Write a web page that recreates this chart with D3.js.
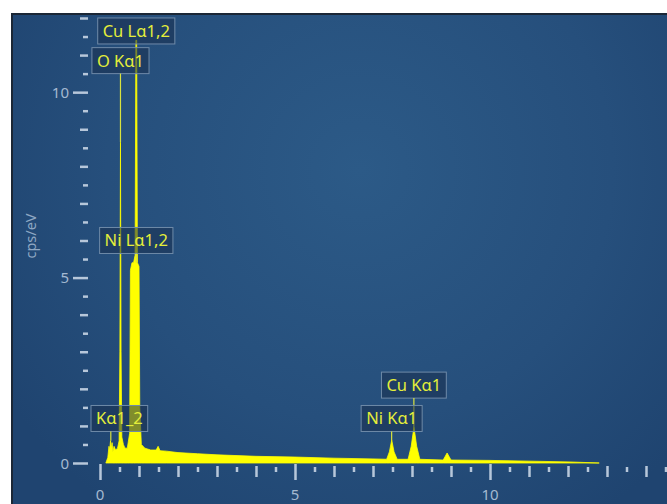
<!DOCTYPE html>
<html>
<head>
<meta charset="utf-8">
<script src="https://cdn.jsdelivr.net/npm/d3@7/dist/d3.min.js"></script>
<style>
  html, body { margin: 0; padding: 0; background: #ffffff; }
  svg { display: block; }
</style>
</head>
<body>
<svg id="chart" width="667" height="504"></svg>
<script>
// EDS spectrum: energy (keV) and intensity (cps/eV)
const energy = [0.15, 0.20, 0.23, 0.25, 0.27, 0.29, 0.31, 0.33, 0.36, 0.40, 0.45, 0.49,
  0.51, 0.525, 0.54, 0.56, 0.60, 0.64, 0.70, 0.76, 0.78, 0.82, 0.86, 0.90, 0.92, 0.94,
  0.96, 1.00, 1.02, 1.06, 1.15, 1.30, 1.44, 1.49, 1.54, 1.70, 2.0, 2.5, 3.0, 4.0, 5.0,
  6.0, 7.0, 7.35, 7.42, 7.48, 7.54, 7.62, 7.90, 7.98, 8.05, 8.12, 8.20, 8.80, 8.90,
  9.00, 10.0, 11.0, 12.0, 12.8];
const cps = [0, 0.15, 0.45, 0.35, 0.6, 0.4, 0.55, 0.3, 0.45, 0.35, 0.4, 0.6,
  3.0, 8.65, 3.0, 0.7, 0.5, 0.4, 0.4, 0.8, 5.2, 5.4, 5.4, 5.6, 11.4, 11.4,
  5.4, 5.3, 1.5, 0.5, 0.4, 0.35, 0.35, 0.45, 0.33, 0.32, 0.28, 0.25, 0.22, 0.18, 0.16,
  0.13, 0.11, 0.1, 0.3, 0.62, 0.3, 0.1, 0.1, 0.45, 0.97, 0.45, 0.1, 0.08, 0.27,
  0.08, 0.07, 0.05, 0.03, 0];

// Peak identification labels: line energy and the level of the label's lower edge
const peakNames = ["Cu L\u03b11,2", "O K\u03b11", "Ni L\u03b11,2", "K\u03b11_2", "Cu K\u03b11", "Ni K\u03b11"];
const peakEnergy = [0.93, 0.525, 0.93, 0.277, 8.048, 7.478];
const peakLabelLevel = [11.3, 10.5, 5.65, 0.85, 1.75, 0.85];
const peakTop = [11.4, 8.65, 5.4, 0.6, 0.97, 0.62];

const xTicks = d3.range(0, 14.51, 0.5);
const yTicks = d3.range(0, 12.01, 0.5);
const xTickLabels = [0, 5, 10];
const yTickLabels = [0, 5, 10];

const svg = d3.select("#chart");
const W = 667, H = 504;

// panel background
const defs = svg.append("defs");
const grad = defs.append("radialGradient").attr("id", "bg")
  .attr("gradientUnits", "userSpaceOnUse")
  .attr("cx", 360).attr("cy", 170).attr("r", 420);
grad.append("stop").attr("offset", "0%").attr("stop-color", "#2c5a87");
grad.append("stop").attr("offset", "60%").attr("stop-color", "#264f7c");
grad.append("stop").attr("offset", "100%").attr("stop-color", "#1f4470");

svg.append("rect").attr("x", 11).attr("y", 13).attr("width", W - 11).attr("height", H - 13)
  .attr("fill", "url(#bg)");
svg.append("line").attr("x1", 11).attr("x2", W).attr("y1", 14).attr("y2", 14)
  .attr("stroke", "#1b2736").attr("stroke-width", 2);
svg.append("line").attr("x1", 12).attr("x2", 12).attr("y1", 13).attr("y2", H)
  .attr("stroke", "#1b2736").attr("stroke-width", 2);

const x = d3.scaleLinear().domain([0, 14.5]).range([100, 665.5]);
const y = d3.scaleLinear().domain([0, 12]).range([463, 18]);

const tickColor = "#b7c7da";
const labelColor = "#a4b9d1";

// spectrum fill
const pts = energy.map((e, i) => [e, cps[i]]);
svg.append("path")
  .datum(pts)
  .attr("fill", "#ffff00")
  .attr("stroke", "#ffff00")
  .attr("stroke-width", 0.8)
  .attr("d", d3.area().x(d => x(d[0])).y0(y(0)).y1(d => y(d[1])));

// x axis ticks
const xAxis = svg.append("g").attr("transform", `translate(0,${y(0)})`)
  .call(d3.axisBottom(x).tickValues(xTicks).tickSize(0).tickFormat(""));
xAxis.select(".domain").remove();
xAxis.selectAll(".tick line")
  .attr("stroke", tickColor)
  .attr("stroke-width", 2.5)
  .attr("y1", d => (d % 5 === 0 ? 1 : d % 1 === 0 ? 3 : 4))
  .attr("y2", d => (d % 5 === 0 ? 17 : d % 1 === 0 ? 14 : 9));
svg.append("g").selectAll("text").data(xTickLabels).join("text")
  .attr("x", d => x(d)).attr("y", 500)
  .attr("text-anchor", "middle")
  .attr("font-family", "Noto Sans, DejaVu Sans, sans-serif")
  .attr("font-size", 15)
  .attr("fill", labelColor)
  .text(d => d);

// y axis ticks
const yAxis = svg.append("g").attr("transform", "translate(88,0)")
  .call(d3.axisLeft(y).tickValues(yTicks).tickSize(0).tickFormat(""));
yAxis.select(".domain").remove();
yAxis.selectAll(".tick line")
  .attr("stroke", tickColor)
  .attr("stroke-width", 2.5)
  .attr("x1", 0)
  .attr("x2", d => (d % 5 === 0 ? -15 : d % 1 === 0 ? -8 : -5));
svg.append("g").selectAll("text").data(yTickLabels).join("text")
  .attr("x", 69).attr("y", d => y(d) + 5.5)
  .attr("text-anchor", "end")
  .attr("font-family", "Noto Sans, DejaVu Sans, sans-serif")
  .attr("font-size", 15)
  .attr("fill", labelColor)
  .text(d => d);

svg.append("text")
  .attr("transform", "translate(36,236) rotate(-90)")
  .attr("text-anchor", "middle")
  .attr("font-family", "Noto Sans, DejaVu Sans, sans-serif")
  .attr("font-size", 14.5)
  .attr("fill", "#8ea7c3")
  .text("cps/eV");

// peak labels with leader lines
const labels = svg.append("g");
peakNames.forEach((name, i) => {
  const g = labels.append("g");
  const px = x(peakEnergy[i]);
  const bottom = y(peakLabelLevel[i]);
  const t = g.append("text")
    .attr("font-family", "Noto Sans, DejaVu Sans, sans-serif")
    .attr("font-size", 16.5)
    .attr("fill", "#e4ee3a")
    .text(name);
  const tw = t.node().getComputedTextLength();
  const bw = tw + 10, bh = 26;
  let bx = px - bw / 2;
  if (bx < 91) bx = 91;
  g.insert("rect", "text")
    .attr("x", bx).attr("y", bottom - bh)
    .attr("width", bw).attr("height", bh)
    .attr("fill", "rgba(25,48,78,0.55)")
    .attr("stroke", "#6f8aa8").attr("stroke-width", 1);
  t.attr("x", bx + 5).attr("y", bottom - 7);
  const top = y(peakTop[i]);
  if (top > bottom) {
    g.append("line")
      .attr("x1", px).attr("x2", px)
      .attr("y1", bottom).attr("y2", top)
      .attr("stroke", "#d9e23e").attr("stroke-width", 1.2);
  }
});
</script>
</body>
</html>
